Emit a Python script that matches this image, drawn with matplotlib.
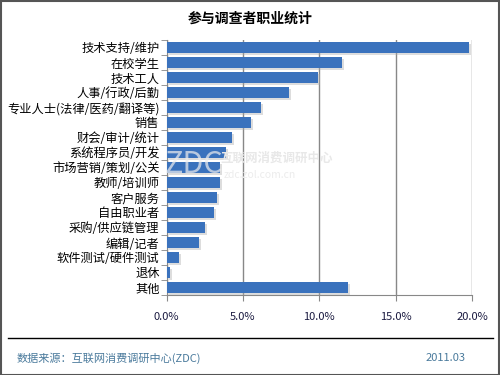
import matplotlib.pyplot as plt
import matplotlib.patheffects as pe
from matplotlib.patches import Rectangle
from matplotlib.lines import Line2D

plt.rcParams['font.family'] = ['Noto Sans CJK SC', 'DejaVu Sans']

# 数据
categories = ['技术支持/维护', '在校学生', '技术工人', '人事/行政/后勤',
              '专业人士(法律/医药/翻译等)', '销售', '财会/审计/统计',
              '系统程序员/开发', '市场营销/策划/公关', '教师/培训师', '客户服务',
              '自由职业者', '采购/供应链管理', '编辑/记者', '软件测试/硬件测试',
              '退休', '其他']
values = [19.8, 11.5, 9.9, 8.0, 6.2, 5.5, 4.3, 3.9, 3.5, 3.5, 3.3,
          3.1, 2.5, 2.1, 0.8, 0.2, 11.9]
xticks = [0, 5, 10, 15, 20]

fig = plt.figure(figsize=(5, 3.75), dpi=100)
W, H = 500, 375
ax = fig.add_axes([166.5 / W, 1 - 295 / H, (472 - 166.5) / W, 255 / H])

pos = list(range(len(categories)))
bars = ax.barh(pos, values, height=0.68, color='#3a72bd', zorder=3)
for b in bars:
    b.set_path_effects([pe.SimplePatchShadow(offset=(1.5, -1.5), shadow_rgbFace='#aaaaaa', alpha=0.4),
                        pe.Normal()])

ax.set_ylim(len(categories) - 0.5, -0.5)
ax.set_xlim(0, 20)
ax.set_yticks(pos)
ax.set_yticklabels(categories, fontsize=8.8, color='black')
ax.set_yticks([i - 0.5 for i in range(len(categories) + 1)], minor=True)
ax.tick_params(axis='y', which='major', length=0, pad=5)
ax.tick_params(axis='y', which='minor', length=4, color='#888888')
ax.set_xticks(xticks)
ax.set_xticklabels(['%.1f%%' % v for v in xticks], fontsize=8, color='#1a1a40')
ax.tick_params(axis='x', length=4, color='#888888', pad=8)
ax.grid(axis='x', color='#888888', linewidth=1, zorder=0)
for s in ['top', 'right']:
    ax.spines[s].set_visible(False)
for s in ['left', 'bottom']:
    ax.spines[s].set_color('#888888')

fig.text(0.5, 1 - 19 / H, '参与调查者职业统计', ha='center', va='center',
         fontsize=10, fontweight='bold')

# 水印
fig.text(220 / W, 1 - 158 / H, '互联网消费调研中心', fontsize=9, color='#e8e8e8',
         fontweight='bold', ha='left', va='center', zorder=5)
fig.text(224 / W, 1 - 175 / H, 'zdc.zol.com.cn', fontsize=7.5, color='#ececec',
         ha='left', va='center', zorder=5)
fig.text(165 / W, 1 - 165 / H, 'ZDC', fontsize=22, color='#eeeeee',
         ha='left', va='center', zorder=5, alpha=0.7)

fig.add_artist(Line2D([8 / W, 493 / W], [1 - 338 / H, 1 - 338 / H], color='black', linewidth=1))
fig.text(17 / W, 1 - 358 / H, '数据来源：互联网消费调研中心(ZDC)', fontsize=8,
         color='#4a7a9c', va='center')
fig.text(466 / W, 1 - 358 / H, '2011.03', fontsize=8, color='#4a7a9c',
         ha='right', va='center')

fig.add_artist(Rectangle((0.001, 0.001), 0.997, 0.997, transform=fig.transFigure,
                         fill=False, edgecolor='#555555', linewidth=1.5))

fig.savefig('out.png', dpi=100)
